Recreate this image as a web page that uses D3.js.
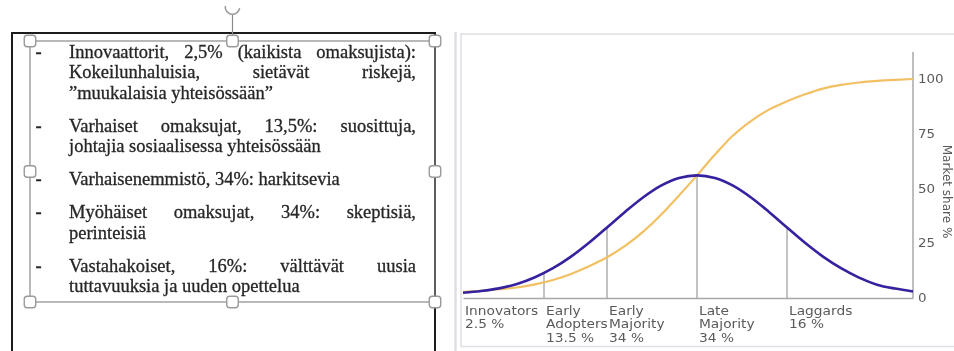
<!DOCTYPE html>
<html>
<head>
<meta charset="utf-8">
<script src="https://cdn.jsdelivr.net/npm/d3@7"></script>
<style>
  html, body { margin: 0; padding: 0; background: #fff; overflow: hidden; }
</style>
</head>
<body>
<svg id="page" width="954" height="351"></svg>
<script>
// Adoption over time, measured in standard deviations from the mean adoption time
const timeSd = [-2.6, -2.4, -2.2, -2.0, -1.8, -1.6, -1.4, -1.2, -1.0, -0.8, -0.6, -0.4, -0.2,
                0, 0.2, 0.4, 0.6, 0.8, 1.0, 1.2, 1.4, 1.6, 1.8, 2.0, 2.2, 2.4];
// Share of new adopters (bell curve)
const adopters = [2.4, 3.2, 4.4, 6.4, 9.5, 13.6, 18.9, 25.2, 32.2, 39.3, 45.9, 51.3, 54.8,
                  56.0, 54.8, 51.3, 45.9, 39.3, 32.2, 25.2, 18.9, 13.6, 9.3, 6.1, 4.3, 3.0];
// Cumulative market share (S-curve)
const marketShare = [2.8, 3.3, 4.0, 4.8, 6.2, 8.2, 11.0, 14.5, 18.6, 23.8, 30.2, 38.0, 46.8,
                     56.0, 65.5, 74.2, 80.8, 86.0, 89.8, 93.0, 95.6, 97.3, 98.4, 99.1, 99.6, 100];

// Adopter categories: where each one begins and its label lines
const segmentStarts = [-2.6, -1.7, -1.0, 0, 1.0];
const segmentLabels = [
  ["Innovators", "2.5 %"],
  ["Early", "Adopters", "13.5 %"],
  ["Early", "Majority", "34 %"],
  ["Late", "Majority", "34 %"],
  ["Laggards", "16 %"]
];
const shareTicks = [0, 25, 50, 75, 100];
const shareTitle = "Market share %";

// Bullet list in the text box, one array per paragraph (one string per line)
const bulletParagraphs = [
  ["Innovaattorit, 2,5% (kaikista omaksujista):", "Kokeilunhaluisia, sietävät riskejä,", "”muukalaisia yhteisössään”"],
  ["Varhaiset omaksujat, 13,5%: suosittuja,", "johtajia sosiaalisessa yhteisössään"],
  ["Varhaisenemmistö, 34%: harkitsevia"],
  ["Myöhäiset omaksujat, 34%: skeptisiä,", "perinteisiä"],
  ["Vastahakoiset, 16%: välttävät uusia", "tuttavuuksia ja uuden opettelua"]
];

const svg = d3.select("#page");
const defs = svg.append("defs");
defs.append("filter").attr("id", "soft")
  .attr("x", "-2%").attr("y", "-2%").attr("width", "104%").attr("height", "104%")
  .append("feGaussianBlur").attr("stdDeviation", 0.45);

const root = svg.append("g").attr("filter", "url(#soft)");

/* ---------- Left: text box on the page ---------- */
const doc = root.append("g");

// Outer black frame (open at the bottom)
doc.append("path")
  .attr("d", "M12,351 V33 H435 V351")
  .attr("fill", "none").attr("stroke", "#1a1a1a").attr("stroke-width", 2);

// Selection outline
const sel = { x0: 30, y0: 41, x1: 435, y1: 302 };
doc.append("rect")
  .attr("x", sel.x0).attr("y", sel.y0)
  .attr("width", sel.x1 - sel.x0).attr("height", sel.y1 - sel.y0)
  .attr("fill", "none").attr("stroke", "#8a8a8a").attr("stroke-width", 1.2);

// Rotation handle
const midX = (sel.x0 + sel.x1) / 2;
doc.append("line")
  .attr("x1", midX).attr("x2", midX).attr("y1", 15).attr("y2", sel.y0)
  .attr("stroke", "#8a8a8a").attr("stroke-width", 1.2);
doc.append("path")
  .attr("d", d3.arc()({ innerRadius: 6.5, outerRadius: 8, startAngle: Math.PI * 0.55, endAngle: Math.PI * 1.55 }))
  .attr("transform", `translate(${midX},7)`)
  .attr("fill", "#9a9a9a");

// Text lines
const textLeft = 69, textRight = 416, bulletX = 35.5;
const lineStep = 20.5, paraGap = 33;
const serifFont = "'Liberation Serif', 'Times New Roman', serif";
const textGroup = doc.append("g")
  .attr("font-family", serifFont).attr("font-size", 18.5)
  .attr("fill", "#262626").attr("stroke", "#262626").attr("stroke-width", 0.3);

let baseline = 57.5;
bulletParagraphs.forEach((para, pi) => {
  if (pi > 0) baseline += paraGap;
  textGroup.append("text")
    .attr("x", bulletX).attr("y", baseline).attr("font-weight", "bold")
    .text("-");
  para.forEach((line, li) => {
    if (li > 0) baseline += lineStep;
    const justify = li < para.length - 1;
    if (!justify) {
      textGroup.append("text").attr("x", textLeft).attr("y", baseline).text(line);
    } else {
      const words = line.split(" ");
      const nodes = words.map(w => textGroup.append("text").attr("y", baseline).text(w));
      const widths = nodes.map(n => n.node().getComputedTextLength());
      const gap = (textRight - textLeft - d3.sum(widths)) / (words.length - 1);
      let cx = textLeft;
      nodes.forEach((n, i) => { n.attr("x", cx); cx += widths[i] + gap; });
    }
  });
});

// Selection handles
const hs = 11.5;
const handlePts = [
  [sel.x0, sel.y0], [midX, sel.y0], [sel.x1, sel.y0],
  [sel.x0, (sel.y0 + sel.y1) / 2], [sel.x1, (sel.y0 + sel.y1) / 2],
  [sel.x0, sel.y1], [midX, sel.y1], [sel.x1, sel.y1]
];
doc.selectAll("rect.handle").data(handlePts).join("rect")
  .attr("class", "handle")
  .attr("x", d => d[0] - hs / 2).attr("y", d => d[1] - hs / 2)
  .attr("width", hs).attr("height", hs).attr("rx", 3)
  .attr("fill", "#fff").attr("stroke", "#9a9a9a").attr("stroke-width", 1.4);

/* ---------- Right: diffusion of innovations chart ---------- */
const panel = root.append("g");

// Page edge and image frame
panel.append("line")
  .attr("x1", 455.5).attr("x2", 455.5).attr("y1", 32).attr("y2", 351)
  .attr("stroke", "#dcdfe3").attr("stroke-width", 2.5);
panel.append("rect")
  .attr("x", 461).attr("y", 34).attr("width", 520).attr("height", 312.5)
  .attr("fill", "#fff").attr("stroke", "#dde0e5").attr("stroke-width", 1.5);

const x = d3.scaleLinear().domain([-2.6, 2.4]).range([463, 913]);
const y = d3.scaleLinear().domain([0, 100]).range([298, 79]);

const axisColor = "#a8a8a8";
const sansFont = "'DejaVu Sans', Verdana, sans-serif";
const stretch = 1.12;

// Category dividers up to the adoption curve
const bellAt = t => {
  const i = d3.bisectLeft(timeSd, t);
  if (timeSd[i] === t) return adopters[i];
  const t0 = timeSd[i - 1], t1 = timeSd[i];
  return adopters[i - 1] + (adopters[i] - adopters[i - 1]) * (t - t0) / (t1 - t0);
};
panel.selectAll("line.divider").data(segmentStarts.slice(1)).join("line")
  .attr("class", "divider")
  .attr("x1", d => x(d)).attr("x2", d => x(d))
  .attr("y1", y(0)).attr("y2", d => y(bellAt(d)))
  .attr("stroke", "#b4b4b4").attr("stroke-width", 1.6);

// Baseline (x axis without ticks)
const xAxis = panel.append("g")
  .attr("transform", `translate(0,${y(0)})`)
  .call(d3.axisBottom(x).tickValues([]).tickSizeOuter(0));
xAxis.select(".domain").attr("stroke", axisColor).attr("stroke-width", 1.5);

// Right share axis
const yAxis = panel.append("g")
  .attr("transform", `translate(${x(2.4)},0)`)
  .call(d3.axisRight(y).tickValues(shareTicks).tickSize(0).tickPadding(5));
yAxis.select(".domain").remove();
yAxis.append("line")
  .attr("x1", 0).attr("x2", 0).attr("y1", 52).attr("y2", y(0))
  .attr("stroke", axisColor).attr("stroke-width", 1.5);
yAxis.selectAll(".tick text")
  .attr("font-family", sansFont).attr("font-size", 12).attr("fill", "#5a5a5a")
  .attr("dy", "0.3em")
  .attr("transform", `scale(${stretch},1)`)
  .attr("x", 5 / stretch);

panel.append("text")
  .attr("transform", `translate(942.5,${(y(50) + 3)}) rotate(90)`)
  .attr("text-anchor", "middle")
  .attr("font-family", sansFont).attr("font-size", 12).attr("fill", "#5a5a5a")
  .text(shareTitle);

// Curves
const points = timeSd.map((t, i) => ({ t, a: adopters[i], m: marketShare[i] }));
panel.append("path")
  .datum(points)
  .attr("fill", "none").attr("stroke", "#f2c063").attr("stroke-width", 2.2)
  .attr("d", d3.line().x(d => x(d.t)).y(d => y(d.m)).curve(d3.curveMonotoneX));
panel.append("path")
  .datum(points)
  .attr("fill", "none").attr("stroke", "#35219f").attr("stroke-width", 2.6)
  .attr("d", d3.line().x(d => x(d.t)).y(d => y(d.a)).curve(d3.curveCatmullRom.alpha(0.5)));

// Category labels below the axis
const labelGroups = panel.selectAll("g.segment").data(segmentLabels).join("g")
  .attr("class", "segment")
  .attr("transform", (d, i) => `translate(${x(segmentStarts[i]) + 2},314.5) scale(${stretch},1)`);
labelGroups.selectAll("text").data(d => d).join("text")
  .attr("x", 0).attr("y", (d, i) => i * 14)
  .attr("font-family", sansFont).attr("font-size", 12.3).attr("fill", "#5a5a5a")
  .text(d => d);
</script>
</body>
</html>
